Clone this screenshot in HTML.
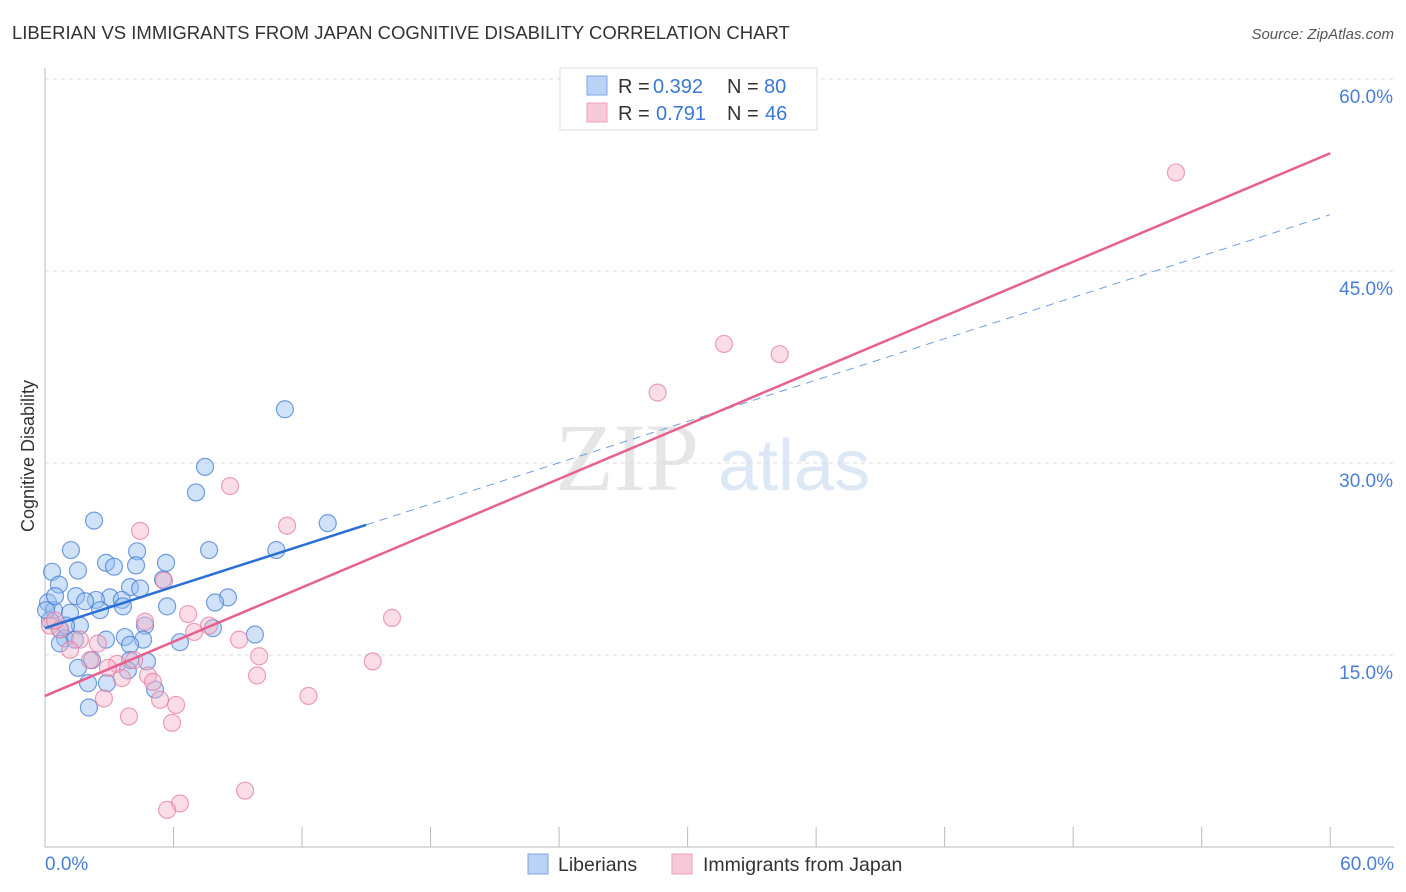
<!DOCTYPE html>
<html><head><meta charset="utf-8"><style>
body{margin:0;background:#fff;font-family:"Liberation Sans",sans-serif;}
svg{display:block}
</style></head><body>
<svg id="chart" width="1406" height="892">
<text x="12" y="39" font-size="18.5" fill="#333">LIBERIAN VS IMMIGRANTS FROM JAPAN COGNITIVE DISABILITY CORRELATION CHART</text>
<text x="1394" y="39" font-size="15" fill="#555" text-anchor="end" font-style="italic">Source: ZipAtlas.com</text>
<text x="555" y="490" font-size="96" fill="#e6e6e6" font-family="Liberation Serif,serif">ZIP</text>
<text x="718" y="490" font-size="72" fill="#dce8f6">atlas</text>
<g id="grid"></g>
<g id="axes"></g>
<g id="pts"></g>
<g id="lines"></g>
<text x="34" y="456" font-size="18" fill="#333" text-anchor="middle" transform="rotate(-90 34 456)">Cognitive Disability</text>
<text x="45" y="870" font-size="19" fill="#4a7fd4">0.0%</text>
<text x="1394" y="870" font-size="19" fill="#4a7fd4" text-anchor="end">60.0%</text>
<g>
<rect x="560" y="68" width="257" height="62" fill="#fff" stroke="#ddd"/>
<rect x="587" y="76" width="20" height="19" fill="#b8d3f5" stroke="#7aa7e0"/>
<rect x="587" y="103" width="20" height="19" fill="#f8c9d8" stroke="#eda1ba"/>
<text x="618" y="93" font-size="20" fill="#333">R =</text>
<text x="653" y="93" font-size="20" fill="#3a78d6">0.392</text>
<text x="727" y="93" font-size="20" fill="#333">N =</text>
<text x="764" y="93" font-size="20" fill="#3a78d6">80</text>
<text x="618" y="120" font-size="20" fill="#333">R =</text>
<text x="656" y="120" font-size="20" fill="#3a78d6">0.791</text>
<text x="727" y="120" font-size="20" fill="#333">N =</text>
<text x="765" y="120" font-size="20" fill="#3a78d6">46</text>
</g>
<g>
<rect x="528" y="854" width="20" height="20" fill="#b8d3f5" stroke="#7aa7e0"/>
<text x="558" y="871" font-size="19.5" fill="#333">Liberians</text>
<rect x="672" y="854" width="20" height="20" fill="#f8c9d8" stroke="#eda1ba"/>
<text x="703" y="871" font-size="19.5" fill="#333">Immigrants from Japan</text>
</g>
</svg>
<script>
const yTicks=[15,30,45,60];
const yTickLabels=["15.0%","30.0%","45.0%","60.0%"];
const xTicks=[0,6,12,18,24,30,36,42,48,54,60];
const blueX=[11.2,7.47,7.05,2.29,13.2,1.21,4.30,7.66,10.8,5.65,2.85,4.25,3.22,1.54,0.33,5.51,0.65,3.97,4.44,1.45,3.03,3.59,2.38,1.87,0.14,8.54,7.94,5.70,3.64,2.57,0.42,1.17,4.67,7.84,0.23,1.63,0.70,3.73,0.93,1.40,6.30,2.85,4.58,9.80,0.70,3.97,2.19,4.76,3.97,1.54,3.87,2.01,2.89,5.14,2.05,0.05,0.98,0.47];
const blueY=[34.2,29.7,27.7,25.5,25.3,23.2,23.1,23.2,23.2,22.2,22.2,22.0,21.9,21.6,21.5,20.9,20.5,20.3,20.2,19.6,19.5,19.3,19.3,19.2,19.1,19.5,19.1,18.8,18.8,18.5,18.5,18.3,17.3,17.1,17.7,17.3,17.0,16.4,16.3,16.2,16.0,16.2,16.2,16.6,15.9,15.8,14.6,14.5,14.6,14.0,13.8,12.8,12.8,12.3,10.9,18.5,17.3,19.6];
const pinkX=[52.8,31.7,34.3,28.6,8.64,4.44,11.3,5.56,16.2,6.68,4.67,7.66,6.96,9.06,0.23,0.70,1.63,2.47,1.17,10.0,15.3,3.36,2.94,4.16,9.90,4.81,3.59,5.04,12.3,2.75,5.37,6.12,3.92,5.93,9.34,6.30,5.70,2.1,0.47];
const pinkY=[52.7,39.3,38.5,35.5,28.2,24.7,25.1,20.8,17.9,18.2,17.6,17.3,16.8,16.2,17.3,17.0,16.2,15.9,15.4,14.9,14.5,14.3,14.0,14.6,13.4,13.4,13.2,12.9,11.8,11.6,11.5,11.1,10.2,9.7,4.4,3.4,2.9,14.6,17.7];
const blueLine=[17.1,49.4], blueSolidEnd=15;
const pinkLine=[11.8,54.2];
const NS="http://www.w3.org/2000/svg";
const X=v=>45+v*21.42, Y=v=>847-v*12.8;
function mk(tag,attrs,parent){const e=document.createElementNS(NS,tag);for(const k in attrs)e.setAttribute(k,attrs[k]);document.getElementById(parent).appendChild(e);return e;}
yTicks.forEach((t,i)=>{
 const g=mk('line',{x1:45,x2:1394,y1:Y(t),y2:Y(t),stroke:'#ddd','stroke-dasharray':'4,4'},'grid');
 
 
 const tx=mk('text',{x:1393,y:Y(t)+24,'font-size':19,fill:'#4a7fd4','text-anchor':'end'},'grid');
 tx.textContent=yTickLabels[i];
 
 
});
const ax=mk('line',{x1:45,x2:45,y1:68,y2:847,stroke:'#bbb'},'axes');


const bx=mk('line',{x1:45,x2:1394,y1:847,y2:847,stroke:'#bbb'},'axes');


xTicks.forEach(t=>{const l=mk('line',{x1:X(t),x2:X(t),y1:827,y2:847,stroke:'#bbb'},'axes');
 
 });
blueX.forEach((v,i)=>{const c=mk('circle',{cx:X(v),cy:Y(blueY[i]),r:8.5,fill:'rgba(150,190,240,0.45)',stroke:'rgba(60,120,210,0.7)','stroke-width':1.2},'pts');
 
 });
pinkX.forEach((v,i)=>{const c=mk('circle',{cx:X(v),cy:Y(pinkY[i]),r:8.5,fill:'rgba(245,180,200,0.45)',stroke:'rgba(230,120,160,0.7)','stroke-width':1.2},'pts');
 
 });
const bAt=x=>blueLine[0]+(blueLine[1]-blueLine[0])*x/60;
const bs=mk('line',{x1:X(0),y1:Y(bAt(0)),x2:X(blueSolidEnd),y2:Y(bAt(blueSolidEnd)),stroke:'#2a6fd6','stroke-width':2.5},'lines');


const bd=mk('line',{x1:X(blueSolidEnd),y1:Y(bAt(blueSolidEnd)),x2:X(60),y2:Y(bAt(60)),stroke:'#6f9ee0','stroke-width':1,'stroke-dasharray':'8,6'},'lines');


const pl=mk('line',{x1:X(0),y1:Y(pinkLine[0]),x2:X(60),y2:Y(pinkLine[1]),stroke:'#e8608e','stroke-width':2.5},'lines');


</script>
</body></html>
